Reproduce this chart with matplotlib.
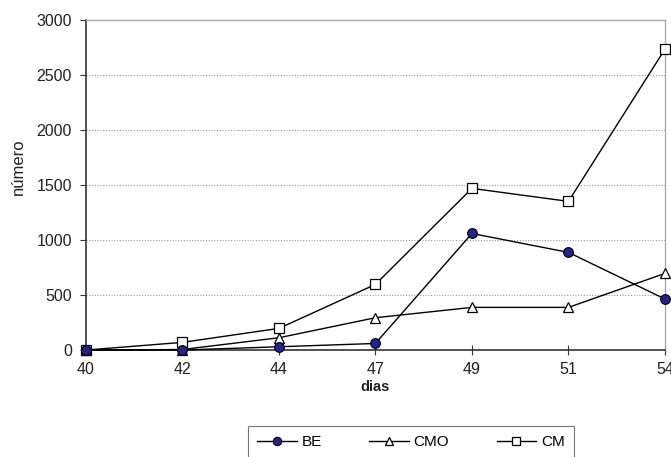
import matplotlib
matplotlib.use("Agg")
import matplotlib.pyplot as plt
from matplotlib.lines import Line2D

plt.rcParams['font.family'] = ['Liberation Sans', 'DejaVu Sans']

dias = ["40", "42", "44", "47", "49", "51", "54"]
be = [0, 0, 30, 60, 1060, 888, 464]
cmo = [0, 5, 112, 294, 388, 388, 697]
cm = [0, 70, 197, 597, 1470, 1352, 2736]

fig = plt.figure(figsize=(6.71, 4.57), dpi=100)
ax = fig.add_axes([0.128, 0.234, 0.863, 0.722])

x = list(range(len(dias)))
ax.plot(x, cm, color='black', lw=1, marker='s', ms=7, mfc='white', mec='black', mew=0.9, clip_on=False, zorder=3, label='CM')
ax.plot(x, cmo, color='black', lw=1, marker='^', ms=7.5, mfc='white', mec='black', mew=0.9, clip_on=False, zorder=4, label='CMO')
ax.plot(x, be, color='black', lw=1, marker='o', ms=7, mfc='#23238C', mec='black', mew=0.8, clip_on=False, zorder=5, label='BE')

ax.set_xlim(0, 6)
ax.set_ylim(0, 3000)
ax.set_xticks(x)
ax.set_xticklabels(dias)
ax.set_yticks(range(0, 3001, 500))
ax.yaxis.grid(True, linestyle=(0, (1, 1.5)), color='#999999', lw=0.8)
ax.set_axisbelow(True)

for s in ['left', 'bottom']:
    ax.spines[s].set_color('#333333')
    ax.spines[s].set_linewidth(1.2)
for s in ['top', 'right']:
    ax.spines[s].set_color('#aaaaaa')
    ax.spines[s].set_linewidth(1.0)

ax.tick_params(axis='x', direction='inout', length=7, width=0.8, labelsize=11.5, pad=5, colors='#333333', labelcolor='#222222')
ax.tick_params(axis='y', direction='out', length=4, width=0.8, labelsize=11.5, pad=6, colors='#333333', labelcolor='#222222')

ax.set_xlabel('dias', fontsize=10.5, fontweight='bold', labelpad=2, color='#222222')
ax.set_ylabel('número', fontsize=12, color='#222222')
ax.yaxis.set_label_coords(-0.104, 0.555)

handles = [
    Line2D([], [], color='black', lw=1, marker='o', ms=6, mfc='#23238C', mec='black', mew=0.8),
    Line2D([], [], color='black', lw=1, marker='^', ms=5.5, mfc='white', mec='black', mew=0.9),
    Line2D([], [], color='black', lw=1, marker='s', ms=5.5, mfc='white', mec='black', mew=0.9),
]
leg = fig.legend(handles, ['BE', 'CMO', 'CM'], loc='upper center', bbox_to_anchor=(0.6125, 0.068),
                 ncol=3, frameon=True, fancybox=False, edgecolor='#555555', fontsize=11,
                 handlelength=2.6, columnspacing=3.1, handletextpad=0.3, borderpad=0.6,
                 borderaxespad=0)
leg.get_frame().set_linewidth(0.8)

fig.savefig('out.png', dpi=100)
